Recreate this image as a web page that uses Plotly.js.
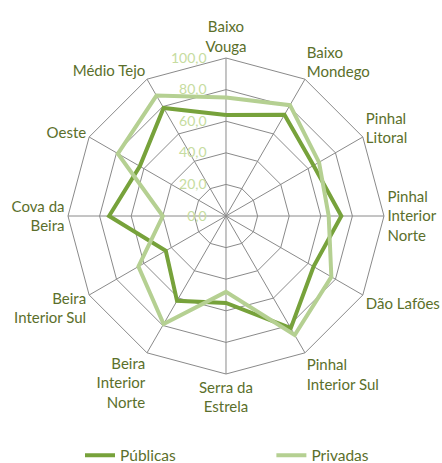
<!DOCTYPE html>
<html><head><meta charset="utf-8">
<script src="https://cdn.plot.ly/plotly-3.0.1.min.js"></script>
<style>html,body{margin:0;padding:0;background:#fff}#chart{width:442px;height:463px}</style>
</head><body><div id="chart"></div>
<script>
const categories = ["Baixo<br>Vouga","Baixo<br>Mondego","Pinhal<br>Litoral","Pinhal<br>Interior<br>Norte","Dão Lafões","Pinhal<br>Interior Sul","Serra da<br>Estrela","Beira<br>Interior<br>Norte","Beira<br>Interior Sul","Cova da<br>Beira","Oeste","Médio Tejo"];
const publicas = [64, 74, 64, 73, 64, 82, 55, 62, 44, 74, 63, 79];
const privadas = [75, 81, 68, 65, 77, 87, 48, 79, 64, 40, 79, 88];
const seriesNames = ["Públicas","Privadas"];
const radialTicks = [0, 20, 40, 60, 80, 100];

function closed(a){ return a.concat([a[0]]); }

const traces = [
  {type:'scatterpolar', mode:'lines', name:seriesNames[0], r:closed(publicas), theta:closed(categories),
   line:{color:'#77a23b', width:4}, legend:'legend'},
  {type:'scatterpolar', mode:'lines', name:seriesNames[1], r:closed(privadas), theta:closed(categories),
   line:{color:'#b5d092', width:4}, legend:'legend2'}
];

const legendCommon = {orientation:'h', xanchor:'left', yanchor:'middle', y:0.016,
  bgcolor:'rgba(0,0,0,0)', font:{size:15.5, color:'#5b6f2b'}};

const layout = {
  width:442, height:463,
  margin:{l:0,r:0,t:0,b:0, autoexpand:false},
  paper_bgcolor:'#fff',
  separators:',.',
  font:{family:'Lato, "Open Sans", sans-serif', size:14, color:'#5b6f2b'},
  showlegend:true,
  legend:Object.assign({}, legendCommon, {x:0.181}),
  legend2:Object.assign({}, legendCommon, {x:0.614}),
  polar:{
    domain:{x:[0.1538,0.8688], y:[0.1922,0.8747]},
    gridshape:'linear',
    bgcolor:'rgba(0,0,0,0)',
    radialaxis:{range:[0,100], tickvals:radialTicks, tickformat:'.1f', angle:90, tickangle:90,
      showline:false, ticks:'outside', ticklen:14, tickcolor:'rgba(0,0,0,0)', gridcolor:'#8a8a8a', gridwidth:1, side:'counterclockwise',
      tickfont:{size:14, color:'#c6dca0'}},
    angularaxis:{rotation:90, direction:'clockwise', type:'category', showline:true, linecolor:'#8a8a8a', linewidth:1,
      gridcolor:'#8a8a8a', gridwidth:1, ticks:'', tickfont:{size:15, color:'#5b6f2b'}}
  }
};
Plotly.newPlot('chart', traces, layout, {displayModeBar:false, staticPlot:true});
</script></body></html>
